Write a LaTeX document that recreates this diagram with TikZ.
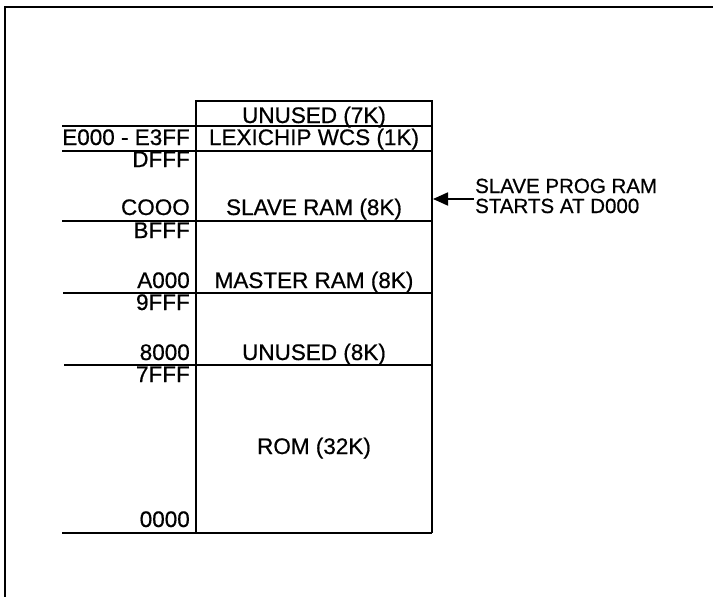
\documentclass[tikz,border=0pt]{standalone}
\usepackage{fontspec}
\setmainfont{Liberation Sans}[FakeBold=0.6]
\usetikzlibrary{arrows.meta}
\begin{document}
\begin{tikzpicture}[x=1pt,y=-1pt,
  frameline/.style={line width=2.6pt},
  boxline/.style={line width=2.3pt},
  lbl/.style={inner sep=0pt,anchor=base,font=\fontsize{22.5}{25}\selectfont},
  addr/.style={inner sep=0pt,anchor=base east,font=\fontsize{22.5}{25}\selectfont},
  note/.style={inner sep=0pt,anchor=base west,font=\fontsize{20.5}{23}\selectfont}]
\useasboundingbox (0,0) rectangle (713,597);
% outer frame (open on right and bottom)
\draw[frameline] (5,597) -- (5,7) -- (713,7);
% memory box
\coordinate (tl) at (196,101);
\coordinate (tr) at (432,101);
\coordinate (bl) at (196,533);
\coordinate (br) at (432,533);
\draw[boxline] (bl) -- (tl) -- (tr) -- (br);
\draw[boxline] (62,533) -- (br);
\draw[boxline] (62,126) -- (432,126);
\draw[boxline] (62,151) -- (432,151);
\draw[boxline] (62,221) -- (432,221);
\draw[boxline] (63,293) -- (432,293);
\draw[boxline] (64,365) -- (432,365);
% region labels
\node[lbl] (u7) at (314,123) {UNUSED (7K)};
\node[lbl] (lex) at (314,145) {LEXICHIP WCS (1K)};
\node[lbl] (slave) at (314,215) {SLAVE RAM (8K)};
\node[lbl] (master) at (314,288) {MASTER RAM (8K)};
\node[lbl] (u8) at (314,360) {UNUSED (8K)};
\node[lbl] (rom) at (314,454) {ROM (32K)};
% addresses
\node[addr] (aE) at (190,145) {E000 - E3FF};
\node[addr] (aDFFF) at (190,167) {DFFF};
\node[addr] (aC) at (190,215) {COOO};
\node[addr] (aBFFF) at (190,238) {BFFF};
\node[addr] (aA) at (190,288) {A000};
\node[addr] (a9FFF) at (190,310) {9FFF};
\node[addr] (a8) at (190,360) {8000};
\node[addr] (a7FFF) at (190,382) {7FFF};
\node[addr] (a0) at (190,527) {0000};
% note with arrow
\node[note] (n1) at (475,193) {SLAVE PROG RAM};
\node[note] (n2) at (475,213) {STARTS AT D000};
\coordinate (tail) at (474,199);
\coordinate (tip) at (433,199);
\draw[line width=1.8pt,-{Triangle[length=15pt,width=13pt]}] (tail) -- (tip);
\end{tikzpicture}
\end{document}
